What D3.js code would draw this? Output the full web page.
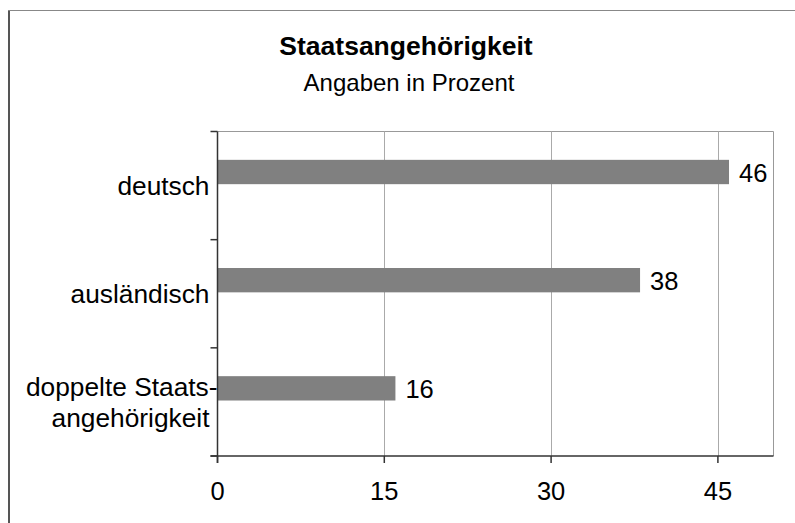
<!DOCTYPE html>
<html>
<head>
<meta charset="utf-8">
<script src="https://cdn.jsdelivr.net/npm/d3@7"></script>
<style>
  body { margin: 0; background: #fff; }
  svg text { font-family: "Liberation Sans", Arial, sans-serif; fill: #000; }
</style>
</head>
<body>
<svg width="795" height="523"></svg>
<script>
var categories = ["deutsch", "ausländisch", "doppelte Staats-|angehörigkeit"];
var values = [46, 38, 16];
var xTicks = [0, 15, 30, 45];

var svg = d3.select("svg");
var m = {left: 217.5, right: 773.5, top: 131.5, bottom: 456};

// outer frame (only left and top visible)
svg.append("line").attr("x1", 9).attr("y1", 10).attr("x2", 9).attr("y2", 523)
	.style("stroke", "#555").style("stroke-width", 2);
svg.append("line").attr("x1", 8).attr("y1", 10.5).attr("x2", 795).attr("y2", 10.5)
	.style("stroke", "#888").style("stroke-width", 1);

svg.append("text").attr("x", 406).attr("y", 55).attr("text-anchor", "middle")
	.style("font-weight", "bold").style("font-size", "26.5px").text("Staatsangehörigkeit");
svg.append("text").attr("x", 409).attr("y", 91).attr("text-anchor", "middle")
	.style("font-size", "24px").text("Angaben in Prozent");

var x = d3.scaleLinear().domain([0, 50]).range([m.left, m.right]);
var y = d3.scaleBand().domain(categories).range([m.top, m.bottom]);

// plot frame top/right
svg.append("line").attr("x1", m.left).attr("y1", m.top).attr("x2", m.right).attr("y2", m.top)
	.style("stroke", "#999");
svg.append("line").attr("x1", m.right).attr("y1", m.top).attr("x2", m.right).attr("y2", m.bottom)
	.style("stroke", "#999");

// gridlines
svg.append("g").selectAll("line").data(xTicks.slice(1)).enter().append("line")
	.attr("x1", d => Math.round(x(d)) + 0.5).attr("x2", d => Math.round(x(d)) + 0.5)
	.attr("y1", m.top).attr("y2", m.bottom)
	.style("stroke", "#aaa").style("stroke-width", 1);

// bars
var bw = y.bandwidth();
svg.append("g").selectAll("rect").data(values).enter().append("rect")
	.attr("x", x(0))
	.attr("y", (d, i) => y(categories[i]) + bw * 0.262)
	.attr("width", d => x(d) - x(0))
	.attr("height", bw * 0.225)
	.style("fill", "#808080");

// value labels
svg.append("g").selectAll("text").data(values).enter().append("text")
	.attr("x", d => x(d) + 10)
	.attr("y", (d, i) => y(categories[i]) + bw * 0.262 + bw * 0.1125 + 10)
	.style("font-size", "25.5px")
	.text(d => d);

// y axis
var yAxis = svg.append("g").attr("transform", "translate(" + m.left + ",0)");
yAxis.append("line").attr("y1", m.top).attr("y2", m.bottom + 7)
	.style("stroke", "#333").style("stroke-width", 1.5);
var bounds = categories.map(c => y(c)).concat([m.bottom]);
yAxis.selectAll(".tk").data(bounds).enter().append("line")
	.attr("x1", -7).attr("x2", 0).attr("y1", d => d).attr("y2", d => d)
	.style("stroke", "#333").style("stroke-width", 1.5);

// category labels
categories.forEach(function (c) {
	var lines = c.split("|");
	var cy = y(c) + bw / 2;
	var t = svg.append("text").attr("text-anchor", "end").style("font-size", "26.3px");
	lines.forEach(function (l, j) {
		t.append("tspan")
			.attr("x", j == 0 && lines.length > 1 ? m.left : m.left - 8)
			.attr("y", cy + 9.5 + (j - (lines.length - 1) / 2) * 31.7)
			.text(l);
	});
});

// x axis
var xAxis = svg.append("g").attr("transform", "translate(0," + m.bottom + ")");
xAxis.append("line").attr("x1", m.left - 7).attr("x2", m.right)
	.style("stroke", "#333").style("stroke-width", 1.5);
xAxis.selectAll(".tk").data(xTicks).enter().append("line")
	.attr("x1", d => x(d)).attr("x2", d => x(d)).attr("y1", 0).attr("y2", 7)
	.style("stroke", "#333").style("stroke-width", 1.5);
xAxis.selectAll("text").data(xTicks).enter().append("text")
	.attr("x", d => x(d)).attr("y", 44).attr("text-anchor", "middle")
	.style("font-size", "25.5px").text(d => d);
</script>
</body>
</html>
